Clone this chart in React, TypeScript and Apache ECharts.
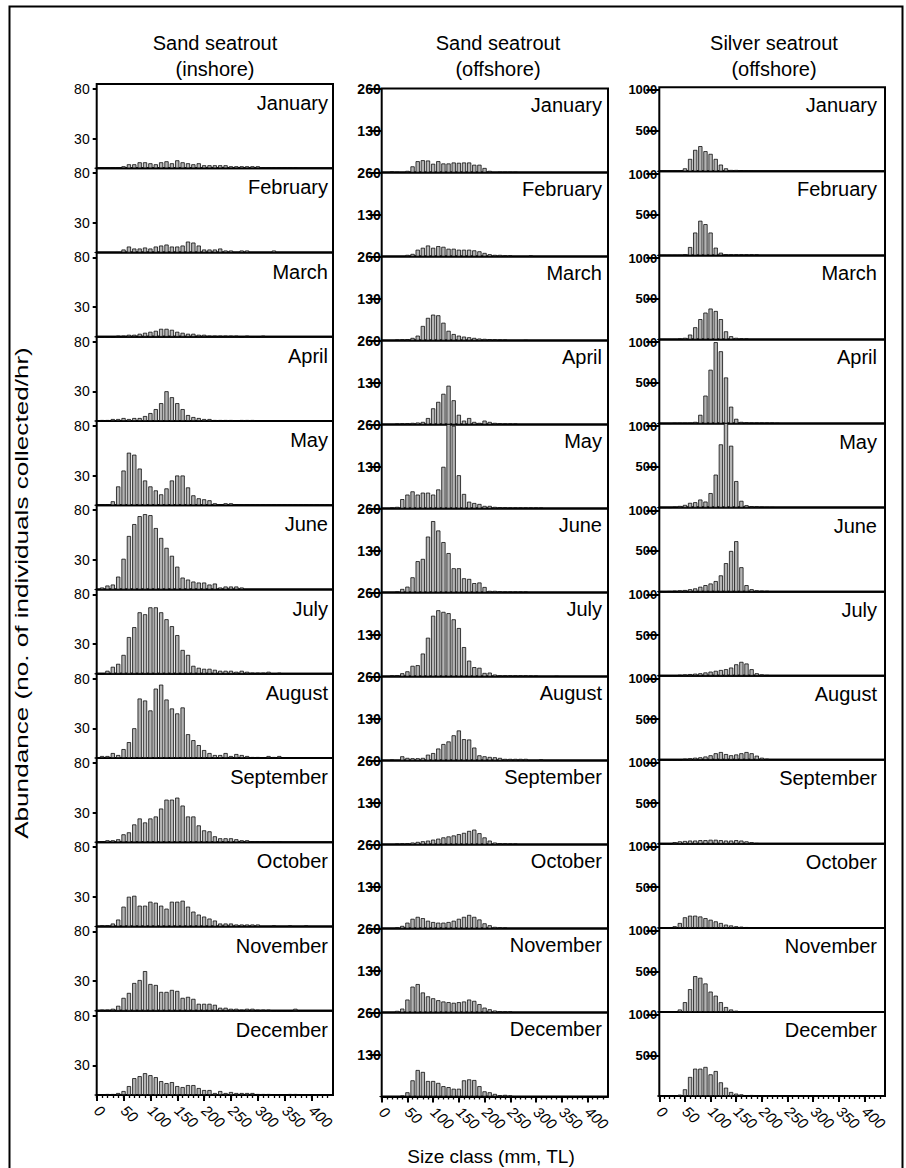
import React, { useEffect, useRef } from "react";
import * as echarts from "echarts";

// ---------- data ----------
const sizeClasses = [0, 10, 20, 30, 40, 50, 60, 70, 80, 90, 100, 110, 120, 130, 140, 150, 160, 170, 180, 190, 200, 210, 220, 230, 240, 250, 260, 270, 280, 290, 300, 310, 320, 330, 340, 350, 360, 370, 380, 390, 400, 410, 420, 430];
const xTickLabels = [0, 50, 100, 150, 200, 250, 300, 350, 400];
const months = ["January", "February", "March", "April", "May", "June", "July", "August", "September", "October", "November", "December"];

// Sand seatrout (inshore)
const inJan = [0, 0, 0, 0, 0, 2, 4, 4, 6, 6, 5, 4, 6, 7, 5, 8, 6, 5, 4, 5, 3, 3, 3, 3, 3, 2, 2, 2, 2, 2, 2, 1, 0, 1, 0, 0, 0, 1];
const inFeb = [0, 0, 0, 0, 0, 3, 6, 4, 4, 5, 4, 6, 7, 8, 6, 6, 7, 11, 10, 7, 3, 3, 3, 4, 2, 2, 0, 2, 2, 0, 0, 0, 0, 2];
const inMar = [0, 0, 0, 0, 1, 1, 2, 2, 3, 4, 5, 6, 8, 8, 7, 5, 4, 3, 3, 2, 2, 1, 1, 1, 1, 1, 1, 0, 1, 0, 0, 1];
const inApr = [0, 1, 1, 2, 2, 3, 2, 3, 3, 5, 8, 12, 18, 30, 24, 18, 12, 6, 4, 3, 2, 2, 1, 1, 1, 1, 0, 1, 1, 1];
const inMay = [0, 0, 1, 4, 19, 35, 53, 51, 37, 25, 19, 15, 11, 17, 25, 30, 30, 18, 10, 7, 6, 5, 2, 1, 2, 2, 1, 1, 0, 0, 1, 0, 0, 0, 0, 0, 0, 0, 0, 0, 1, 0, 0, 1];
const inJun = [0, 2, 4, 5, 13, 31, 54, 66, 74, 76, 75, 62, 52, 42, 34, 23, 12, 10, 8, 7, 7, 5, 6, 2, 3, 3, 3, 2];
const inJul = [0, 0, 3, 7, 10, 19, 37, 47, 62, 60, 67, 67, 62, 55, 48, 39, 24, 19, 8, 6, 5, 5, 4, 3, 3, 3, 2, 3, 2, 1, 1, 1, 2, 0, 1];
const inAug = [0, 2, 2, 5, 3, 9, 16, 30, 60, 58, 48, 70, 74, 59, 50, 45, 51, 24, 18, 13, 8, 5, 3, 3, 5, 2, 4, 3, 2, 1, 1, 0, 2, 1, 2];
const inSep = [0, 0, 2, 2, 3, 8, 10, 18, 24, 20, 24, 26, 34, 43, 43, 45, 37, 26, 26, 17, 12, 11, 6, 4, 4, 4, 3, 2, 2, 1, 1, 1, 1, 1, 1];
const inOct = [0, 1, 1, 3, 7, 20, 30, 31, 21, 21, 25, 24, 21, 18, 25, 25, 26, 20, 15, 12, 10, 8, 6, 3, 3, 3, 2, 2, 2, 2, 2, 0, 0, 1, 0, 0, 1, 0, 0, 1];
const inNov = [0, 1, 1, 2, 5, 13, 18, 28, 31, 40, 27, 26, 19, 19, 21, 20, 13, 14, 12, 7, 7, 7, 6, 3, 3, 2, 2, 1, 2, 2, 1, 1, 1, 0, 0, 0, 0, 2];
const inDec = [0, 0, 1, 1, 2, 4, 9, 17, 19, 22, 20, 18, 14, 12, 13, 9, 8, 10, 10, 7, 5, 5, 2, 4, 2, 3, 2, 2, 2, 2, 1, 1, 1, 0, 0, 0, 1, 1];

// Sand seatrout (offshore)
const offJan = [0, 0, 3, 1, 0, 5, 19, 35, 38, 37, 27, 35, 28, 28, 31, 30, 31, 31, 24, 24, 14, 5, 0, 1, 1, 1, 1];
const offFeb = [0, 0, 0, 0, 0, 5, 8, 21, 27, 34, 27, 32, 30, 24, 24, 21, 21, 21, 19, 16, 11, 7, 5, 5, 3, 3, 0, 0, 0, 3];
const offMar = [0, 0, 0, 2, 3, 4, 8, 15, 45, 70, 80, 78, 55, 30, 20, 15, 12, 10, 8, 6, 5, 4, 3, 2, 2, 0, 0, 0, 1];
const offApr = [0, 0, 0, 2, 3, 4, 5, 6, 8, 20, 50, 70, 95, 120, 75, 30, 12, 20, 8, 5, 12, 8, 5, 3, 2, 2, 2];
const offMay = [0, 0, 2, 5, 29, 43, 53, 43, 49, 49, 43, 59, 129, 262, 256, 103, 45, 21, 17, 14, 8, 8, 5, 4, 3, 2, 2, 2, 2, 2, 2, 2];
const offJun = [0, 0, 0, 2, 11, 18, 47, 97, 104, 173, 221, 192, 156, 122, 75, 75, 44, 42, 29, 31, 17, 5, 5, 3, 2, 2, 2, 2, 2];
const offJul = [0, 0, 3, 4, 10, 16, 33, 35, 71, 120, 188, 205, 200, 196, 177, 150, 91, 49, 29, 27, 11, 12, 6, 3, 3, 3, 3, 3, 3, 2, 2, 0, 0, 0, 1];
const offAug = [0, 0, 2, 0, 13, 8, 7, 7, 8, 18, 23, 37, 51, 59, 78, 93, 66, 65, 40, 16, 13, 11, 10, 8, 5, 5, 5, 5, 5, 0, 0, 3];
const offSep = [0, 0, 0, 2, 3, 4, 6, 8, 10, 12, 15, 18, 22, 25, 28, 32, 36, 42, 46, 35, 22, 12, 6, 4, 3, 2, 2];
const offOct = [0, 0, 0, 3, 8, 18, 30, 36, 32, 24, 20, 18, 18, 20, 24, 30, 36, 42, 36, 28, 16, 10, 5, 3, 2];
const offNov = [0, 0, 0, 5, 12, 40, 80, 88, 62, 50, 44, 38, 34, 32, 30, 32, 34, 40, 36, 26, 15, 10, 6, 4, 3, 3];
const offDec = [0, 0, 0, 0, 2, 13, 50, 82, 76, 48, 48, 42, 32, 29, 24, 24, 50, 53, 51, 32, 16, 13, 8, 4, 5, 3];

// Silver seatrout (offshore)
const silJan = [0, 0, 0, 0, 0, 37, 153, 264, 310, 248, 215, 153, 83, 37, 17, 17, 8, 0, 12];
const silFeb = [0, 0, 0, 0, 0, 12, 103, 281, 426, 384, 281, 95, 33, 12, 8, 8, 8, 8, 8, 8];
const silMar = [0, 0, 0, 0, 8, 20, 60, 150, 250, 330, 380, 350, 250, 100, 40, 20, 10, 8];
const silApr = [0, 0, 0, 4, 4, 4, 4, 20, 107, 343, 661, 1000, 888, 566, 207, 58, 20, 12, 8, 8, 8, 8, 8, 4];
const silMay = [0, 0, 0, 8, 20, 33, 58, 66, 99, 74, 178, 405, 777, 1050, 760, 326, 83, 29, 17, 12, 8, 4, 4];
const silJun = [0, 0, 5, 10, 15, 20, 30, 40, 60, 80, 100, 130, 200, 350, 500, 620, 300, 80, 30, 15, 10, 8];
const silJul = [0, 0, 0, 0, 10, 15, 20, 25, 30, 40, 50, 60, 70, 80, 100, 140, 170, 150, 80, 30, 15, 8];
const silAug = [0, 0, 0, 0, 0, 12, 18, 25, 30, 40, 55, 80, 95, 70, 55, 65, 80, 95, 80, 50, 25, 12];
const silSep = [0, 0, 0, 20, 30, 35, 40, 40, 45, 45, 50, 50, 45, 40, 40, 45, 40, 30, 20, 10];
const silOct = [0, 0, 0, 20, 60, 130, 150, 150, 140, 120, 100, 80, 60, 40, 30, 20, 15, 10];
const silNov = [0, 0, 0, 0, 30, 120, 280, 440, 420, 350, 250, 200, 120, 60, 30, 15, 10];
const silDec = [0, 0, 0, 0, 16, 82, 234, 336, 336, 357, 266, 307, 168, 102, 49, 29, 20, 0, 12];

const inshoreTicks = [30, 80];
const offshoreTicks = [130, 260];
const silverTicks = [500, 1000];

const columnTitles = [
  ["Sand seatrout", "(inshore)"],
  ["Sand seatrout", "(offshore)"],
  ["Silver seatrout", "(offshore)"],
];
const yTitle = "Abundance (no. of individuals collected/hr)";
const xTitle = "Size class (mm, TL)";

const inshoreSeries = [inJan, inFeb, inMar, inApr, inMay, inJun, inJul, inAug, inSep, inOct, inNov, inDec];
const offshoreSeries = [offJan, offFeb, offMar, offApr, offMay, offJun, offJul, offAug, offSep, offOct, offNov, offDec];
const silverSeries = [silJan, silFeb, silMar, silApr, silMay, silJun, silJul, silAug, silSep, silOct, silNov, silDec];

// ---------- layout ----------
const FONT = "'Liberation Sans', Arial, Helvetica, sans-serif";
const columns = [
  { left: 96.7, right: 333, top: 84, bottom: 1095, max: 85, ticks: inshoreTicks, tickLen: 4, labelMargin: 1, offset: 6, bold: false, labelSize: 14, monthRight: 328, monthDy: 19, titleX: 215, data: inshoreSeries },
  { left: 381.7, right: 608, top: 88.5, bottom: 1096.5, max: 260, ticks: offshoreTicks, tickLen: 13, labelMargin: 1, offset: 0, bold: true, labelSize: 14, monthRight: 602, monthDy: 16, titleX: 498, data: offshoreSeries },
  { left: 659.3, right: 885, top: 87.3, bottom: 1096, max: 1033, ticks: silverTicks, tickLen: 13, labelMargin: 2, offset: 0, bold: true, labelSize: 13, monthRight: 877, monthDy: 18, titleX: 774, data: silverSeries },
];

export default function App() {
  const ref = useRef<HTMLDivElement>(null);

  useEffect(() => {
    const chart = echarts.init(ref.current as HTMLDivElement, null, { renderer: "svg", width: 906, height: 1168 });

    const grids: any[] = [];
    const xAxes: any[] = [];
    const yAxes: any[] = [];
    const series: any[] = [];
    const graphics: any[] = [];

    columns.forEach((col, c) => {
      const h = (col.bottom - col.top) / 12;
      columnTitles[c].forEach((line, li) => {
        graphics.push({
          type: "text",
          x: col.titleX,
          y: 42.5 + li * 26.5,
          style: { text: line, font: `20px ${FONT}`, fill: "#000", align: "center", verticalAlign: "middle", textAlign: "center", textVerticalAlign: "middle" },
        });
      });
      for (let r = 0; r < 12; r++) {
        const gi = grids.length;
        const top = col.top + r * h;
        grids.push({ left: col.left, top, width: col.right - col.left, height: h, show: true, borderColor: "#000", borderWidth: 2, backgroundColor: "transparent", containLabel: false });
        const last = r === 11;
        const xi = xAxes.length;
        xAxes.push({
          gridIndex: gi,
          type: "value",
          min: 0,
          max: 440,
          splitLine: { show: false },
          axisLine: { show: last, lineStyle: { color: "#000", width: 2 } },
          axisTick: last ? { show: true, customValues: sizeClasses, length: 3, lineStyle: { color: "#000", width: 1.3 } } : { show: false },
          axisLabel: last
            ? { show: true, customValues: xTickLabels, rotate: -42, margin: 13, fontSize: 15, fontStyle: "italic", fontFamily: FONT, color: "#000", formatter: (v: number) => String(v) }
            : { show: false },
        });
        if (last) {
          xAxes.push({
            gridIndex: gi,
            type: "value",
            min: 0,
            max: 440,
            position: "bottom",
            splitLine: { show: false },
            axisLine: { show: false },
            axisTick: { show: true, customValues: xTickLabels, length: 6, lineStyle: { color: "#000", width: 2 } },
            axisLabel: { show: false },
          });
        }
        yAxes.push({
          gridIndex: gi,
          type: "value",
          min: 0,
          max: col.max,
          offset: col.offset,
          splitLine: { show: false },
          axisLine: { show: false },
          axisTick: { show: true, customValues: col.ticks, length: col.tickLen, lineStyle: { color: "#000", width: 2 } },
          axisLabel: { show: true, customValues: col.ticks, margin: col.labelMargin, fontSize: col.labelSize, fontWeight: col.bold ? "bold" : "normal", fontFamily: FONT, color: "#000", formatter: (v: number) => String(v) },
        });
        const vals = col.data[r];
        series.push({
          type: "bar",
          xAxisIndex: xi,
          yAxisIndex: gi,
          data: vals.map((v, i) => [sizeClasses[i], v]),
          barWidth: 4.2,
          clip: true,
          silent: true,
          itemStyle: { color: "#b4b4b4", borderColor: "#000", borderWidth: 0.75 },
        });
        graphics.push({
          type: "text",
          x: col.monthRight,
          y: top + col.monthDy,
          style: { text: months[r], font: `20px ${FONT}`, fill: "#000", align: "right", verticalAlign: "middle", textAlign: "right", textVerticalAlign: "middle" },
        });
      }
    });

    graphics.push({
      type: "text",
      x: 22,
      y: 593,
      rotation: Math.PI / 2,
      scaleX: 1.45,
      style: { text: yTitle, font: `18px ${FONT}`, fill: "#000", align: "center", verticalAlign: "middle", textAlign: "center", textVerticalAlign: "middle" },
    });
    graphics.push({
      type: "text",
      x: 491,
      y: 1156,
      style: { text: xTitle, font: `19px ${FONT}`, fill: "#000", align: "center", verticalAlign: "middle", textAlign: "center", textVerticalAlign: "middle" },
    });
    graphics.push({
      type: "rect",
      shape: { x: 9.5, y: 6.5, width: 893, height: 1175 },
      style: { fill: "none", stroke: "#000", lineWidth: 2 },
      silent: true,
    });

    chart.setOption({
      animation: false,
      backgroundColor: "#fff",
      grid: grids,
      xAxis: xAxes,
      yAxis: yAxes,
      series,
      graphic: { elements: graphics },
    });

    return () => chart.dispose();
  }, []);

  return <div ref={ref} style={{ position: "absolute", left: 0, top: 0, width: 906, height: 1168 }} />;
}
